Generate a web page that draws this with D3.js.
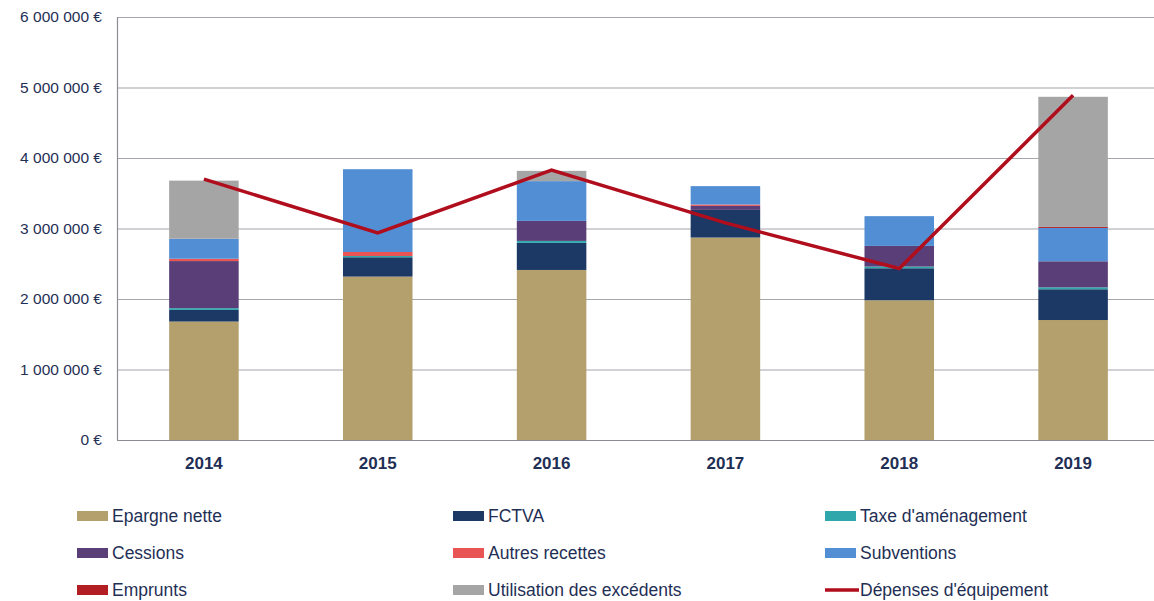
<!DOCTYPE html>
<html>
<head>
<meta charset="utf-8">
<script src="https://cdn.jsdelivr.net/npm/d3@7"></script>
<style>
  body { margin: 0; background: #fff; }
  text { font-family: "Liberation Sans", Arial, sans-serif; }
</style>
</head>
<body>
<div id="chart"></div>
<script>
// categories and series (values in euros)
const years = ["2014", "2015", "2016", "2017", "2018", "2019"];
const epargneNette = [1680000, 2318000, 2412000, 2872000, 1982000, 1702000];
const fctva = [165000, 274000, 384000, 392000, 454000, 436000];
const taxeAmenagement = [25000, 18000, 28000, 0, 24000, 28000];
const cessions = [668000, 0, 284000, 57000, 293000, 369000];
const autresRecettes = [33000, 57000, 0, 19000, 0, 0];
const subventions = [284000, 1174000, 564000, 261000, 422000, 473000];
const emprunts = [0, 0, 0, 0, 0, 14000];
const utilisationExcedents = [824000, 0, 146000, 0, 0, 1846000];
const depensesEquipement = [3700000, 2937000, 3830000, 3080000, 2432000, 4890000];
const yTicks = [0, 1000000, 2000000, 3000000, 4000000, 5000000, 6000000];

const series = [
  { name: "Epargne nette", values: epargneNette, color: "#b3a06d" },
  { name: "FCTVA", values: fctva, color: "#1c3864" },
  { name: "Taxe d'aménagement", values: taxeAmenagement, color: "#2fa7ab" },
  { name: "Cessions", values: cessions, color: "#5a3e78" },
  { name: "Autres recettes", values: autresRecettes, color: "#e95454" },
  { name: "Subventions", values: subventions, color: "#528ed4" },
  { name: "Emprunts", values: emprunts, color: "#b31e24" },
  { name: "Utilisation des excédents", values: utilisationExcedents, color: "#a5a5a5" }
];
const lineName = "Dépenses d'équipement";
const lineColor = "#b00d1d";

const width = 1154, height = 601;
const textColor = "#1f2f55";

const svg = d3.select("#chart").append("svg")
  .attr("width", width)
  .attr("height", height);

const x = d3.scaleBand()
  .domain(years)
  .range([117, 1160])
  .paddingInner(0.6)
  .paddingOuter(0.3);

const y = d3.scaleLinear()
  .domain([0, 6000000])
  .range([440, 17]);

// french style numbers: 6 000 000 €
const fr = d3.formatLocale({ decimal: ",", thousands: " ", grouping: [3], currency: ["", " €"] });
const fmt = v => fr.format(",")(v) + " €";

// gridlines
svg.append("g")
  .selectAll("line")
  .data(yTicks.filter(d => d > 0))
  .enter()
  .append("line")
  .attr("x1", 117)
  .attr("x2", 1160)
  .attr("y1", d => y(d) + 0.5)
  .attr("y2", d => y(d) + 0.5)
  .attr("stroke", "#a6a6ad")
  .attr("stroke-width", 1.2);

// y axis labels
svg.append("g")
  .selectAll("text")
  .data(yTicks)
  .enter()
  .append("text")
  .attr("x", 102)
  .attr("y", d => y(d))
  .attr("dy", "0.35em")
  .attr("text-anchor", "end")
  .attr("font-size", 15.5)
  .attr("fill", textColor)
  .text(fmt);

// stacked bars
const rows = years.map((yr, i) => {
  const r = { year: yr };
  series.forEach(s => { r[s.name] = s.values[i]; });
  return r;
});
const stack = d3.stack().keys(series.map(s => s.name));
const stacked = stack(rows);

svg.append("g")
  .selectAll("g")
  .data(stacked)
  .enter()
  .append("g")
  .attr("fill", (d, i) => series[i].color)
  .selectAll("rect")
  .data(d => d.filter(p => p[1] > p[0]))
  .enter()
  .append("rect")
  .attr("x", d => x(d.data.year))
  .attr("width", x.bandwidth())
  .attr("y", d => y(d[1]))
  .attr("height", d => y(d[0]) - y(d[1]));

// axes lines
svg.append("line")
  .attr("x1", 117.5).attr("x2", 117.5)
  .attr("y1", 17).attr("y2", 440)
  .attr("stroke", "#8c8c96").attr("stroke-width", 1.2);
svg.append("line")
  .attr("x1", 117).attr("x2", 1160)
  .attr("y1", 440.5).attr("y2", 440.5)
  .attr("stroke", "#8c8c96").attr("stroke-width", 1.2);

// x labels
svg.append("g")
  .selectAll("text")
  .data(years)
  .enter()
  .append("text")
  .attr("x", d => x(d) + x.bandwidth() / 2)
  .attr("y", 469)
  .attr("text-anchor", "middle")
  .attr("font-size", 17)
  .attr("font-weight", "bold")
  .attr("fill", textColor)
  .text(d => d);

// line for dépenses d'équipement
const line = d3.line()
  .x((d, i) => x(years[i]) + x.bandwidth() / 2)
  .y(d => y(d));

svg.append("path")
  .datum(depensesEquipement)
  .attr("d", line)
  .attr("fill", "none")
  .attr("stroke", lineColor)
  .attr("stroke-width", 3.5)
  .attr("stroke-linejoin", "miter");

// legend
const legendItems = series.map(s => ({ name: s.name, color: s.color, type: "rect" }))
  .concat([{ name: lineName, color: lineColor, type: "line" }]);
const colX = [77, 453, 825];
const rowY = [516, 553, 590];

const leg = svg.append("g")
  .selectAll("g")
  .data(legendItems)
  .enter()
  .append("g")
  .attr("transform", (d, i) => `translate(${colX[i % 3]},${rowY[Math.floor(i / 3)]})`);

leg.filter(d => d.type === "rect")
  .append("rect")
  .attr("x", 0).attr("y", -5)
  .attr("width", 31).attr("height", 10)
  .attr("fill", d => d.color);

leg.filter(d => d.type === "line")
  .append("line")
  .attr("x1", 0).attr("x2", 34)
  .attr("y1", 0).attr("y2", 0)
  .attr("stroke", d => d.color)
  .attr("stroke-width", 3.5);

leg.append("text")
  .attr("x", 35)
  .attr("y", 0)
  .attr("dy", "0.35em")
  .attr("font-size", 17.5)
  .attr("fill", textColor)
  .text(d => d.name);
</script>
</body>
</html>
